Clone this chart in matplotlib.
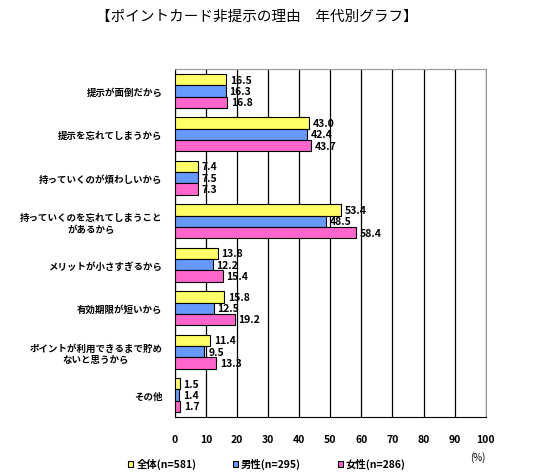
import numpy as np
import matplotlib.pyplot as plt

plt.rcParams['font.family'] = ['Noto Sans CJK JP', 'DejaVu Sans']

categories = ['提示が面倒だから', '提示を忘れてしまうから', '持っていくのが煩わしいから',
              '持っていくのを忘れてしまうこと\nがあるから', 'メリットが小さすぎるから',
              '有効期限が短いから', 'ポイントが利用できるまで貯め\nないと思うから', 'その他']
zentai = [16.5, 43.0, 7.4, 53.4, 13.8, 15.8, 11.4, 1.5]
dansei = [16.3, 42.4, 7.5, 48.5, 12.2, 12.5, 9.5, 1.4]
josei = [16.8, 43.7, 7.3, 58.4, 15.4, 19.2, 13.3, 1.7]
series_names = ['全体(n=581)', '男性(n=295)', '女性(n=286)']
colors = ['#FFFF66', '#6699FF', '#FF66CC']

fig = plt.figure(figsize=(5.57, 4.77), dpi=100)
ax = fig.add_axes([0.314, 0.124, 0.558, 0.729])

y = np.arange(len(categories))
h = 0.26
for i, (vals, name, c) in enumerate(zip([zentai, dansei, josei], series_names, colors)):
    pos = y + (i - 1) * h
    ax.barh(pos, vals, height=h, color=c, edgecolor='black', linewidth=0.8, label=name, zorder=3)
    for p, v in zip(pos, vals):
        ax.text(v + 1.2, p, f'{v:.1f}', va='center', ha='left', fontsize=7.5, fontweight='bold', zorder=4)

ax.set_xlim(0, 100)
ax.set_ylim(len(categories) - 0.5, -0.5)
ax.set_xticks(range(0, 101, 10))
ax.set_yticks(y)
ax.set_yticklabels(categories, fontsize=6.8, fontweight='bold', ha='right', multialignment='center')
ax.tick_params(axis='y', length=0, pad=9)
ax.tick_params(axis='x', length=0, pad=12, labelsize=7.5)
for lab in ax.get_xticklabels():
    lab.set_fontweight('bold')
ax.xaxis.grid(True, color='black', linewidth=0.9, zorder=0)
ax.spines['top'].set_color('#999999')
ax.spines['right'].set_color('#999999')

fig.text(0.462, 0.965, '【ポイントカード非提示の理由　年代別グラフ】', ha='center', va='center', fontsize=10.5)
fig.text(0.858, 0.040, '(%)', ha='center', va='center', fontsize=7)

ax.legend(loc='center', bbox_to_anchor=(0.296, -0.135), ncol=3, frameon=False,
          handlelength=0.5, handleheight=0.5, columnspacing=3.5, handletextpad=0.3,
          prop={'weight': 'bold', 'size': 7.5})

fig.savefig('out.png', dpi=100)
